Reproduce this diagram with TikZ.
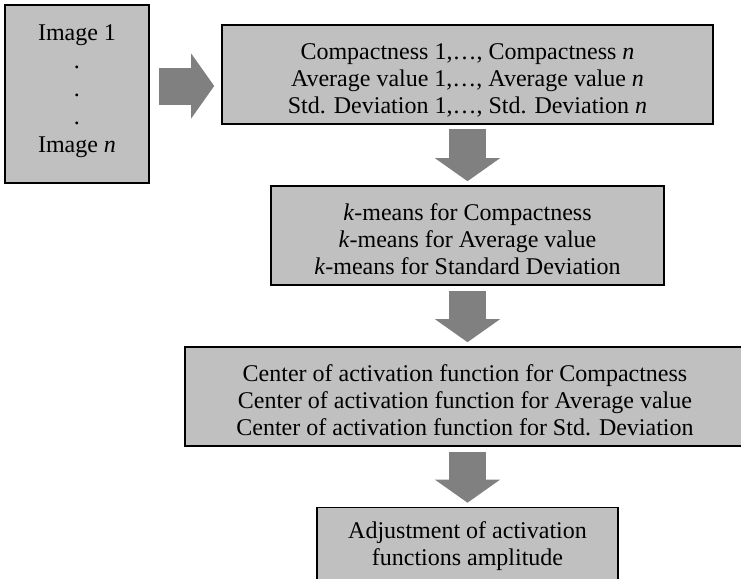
\documentclass[tikz,border=0pt]{standalone}
\usepackage{fontspec}
\setmainfont{Liberation Serif}
\usetikzlibrary{arrows.meta}
\definecolor{boxgray}{RGB}{192,192,192}
\definecolor{arrowgray}{RGB}{128,128,128}

\begin{document}
\begin{tikzpicture}[x=0.5pt,y=-0.5pt,
  box/.style={draw,fill=boxgray,line width=0.8pt,align=center,inner sep=0pt,
    font=\fontsize{12}{13.5}\selectfont},
  threelines/.style={text height=39pt,text depth=0pt},
  bigarrow/.style={arrowgray,line width=18.5pt,
    -{Triangle[width=32.5pt,length=11.5pt,line width=0pt]}}]
  \useasboundingbox (0,0) rectangle (741,579);
  \clip (0,0) rectangle (741,579);

  % boxes
  \node[box,minimum width=72pt,minimum height=89pt,text depth=5.5pt,
    font=\fontsize{12}{14.1}\selectfont] (img) at (77,94)
    {Image 1\\.\\.\\.\\Image \textit{n}};
  \node[box,threelines,minimum width=245.5pt,minimum height=49.5pt] (feat) at (467.5,74.5)
    {Compactness 1,…, Compactness \textit{n}\\
     Average value 1,…, Average value \textit{n}\\
     Std. Deviation 1,…, Std. Deviation \textit{n}};
  \node[box,threelines,minimum width=196.5pt,minimum height=49.5pt] (km) at (467.5,235.5)
    {\textit{k}-means for Compactness\\
     \textit{k}-means for Average value\\
     \textit{k}-means for Standard Deviation};
  \node[box,threelines,minimum width=280pt,minimum height=49.5pt] (ctr) at (465,396.5)
    {Center of activation function for Compactness\\
     Center of activation function for Average value\\
     Center of activation function for Std. Deviation};
  \node[box,minimum width=150.5pt,minimum height=49.5pt,text depth=13pt] (adj) at (467.5,557)
    {Adjustment of activation\\functions amplitude};

  % arrows
  \coordinate (a1) at ([shift={(4.5pt,4pt)}]img.east);
  \draw[bigarrow,shorten >=3.5pt] (a1) -- (a1 -| feat.west);
  \draw[bigarrow,shorten <=2pt,shorten >=2pt] (feat.south) -- (km.north);
  \draw[bigarrow,shorten <=2.5pt,shorten >=2pt] (km.south) -- (km.south |- ctr.north);
  \draw[bigarrow,shorten <=2.5pt,shorten >=2pt] (adj.north |- ctr.south) -- (adj.north);
\end{tikzpicture}
\end{document}
